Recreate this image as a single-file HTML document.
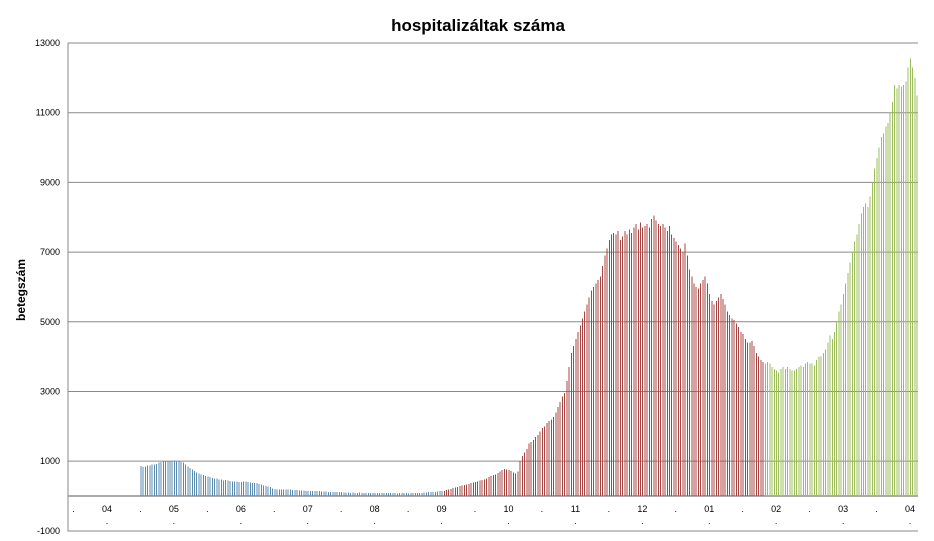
<!DOCTYPE html>
<html><head><meta charset="utf-8"><style>
body{margin:0;background:#fff;}
svg{display:block;font-family:"Liberation Sans",sans-serif;}
</style></head><body>
<svg id="chart" width="934" height="541">
<text x="478" y="31" text-anchor="middle" font-size="17" font-weight="bold">hospitalizáltak száma</text>
<text transform="translate(25,290) rotate(-90)" text-anchor="middle" font-size="12" font-weight="bold">betegszám</text>
<g id="grid"></g><g id="bars" shape-rendering="crispEdges"></g><g id="xlabels"></g>
</svg>
<script>
const yTicks=[13000,11000,9000,7000,5000,3000,1000,-1000];
const monthLabels=["04","05","06","07","08","09","10","11","12","01","02","03","04"];
const blueValues=[860,830,850,870,880,900,910,920,960,980,1000,1000,1000,
1010,1000,1020,990,1000,980,960,900,850,800,
760,720,680,650,620,600,580,560,540,520,
500,500,480,470,450,460,440,430,420,420,410,400,400,
420,410,400,390,380,380,370,350,330,300,280,270,260,
220,200,190,190,190,180,180,180,180,170,170,170,160,
160,160,150,150,150,150,140,140,140,130,130,130,120,120,120,110,110,110,
110,100,100,100,90,100,90,90,100,90,90,80,90,80,80,90,80,80,80,80,80,80,80,
80,80,70,80,80,80,80,70,80,80,80,90,90,90,100,100,110,110,120,120,130,140,150];
const redValues=[150,170,190,200,230,250,260,280,300,320,330,350,
370,390,400,420,440,460,480,500,540,580,600,620,660,700,
740,780,760,740,720,680,650,700,1000,
1150,1250,1350,1500,1550,1600,1700,1750,1850,
1950,2000,2100,2150,2200,2270,2400,2550,2700,
2850,2960,3300,3700,4100,4300,4500,4700,4900,
5100,5300,5500,5700,5900,6000,6100,6200,6300,
6600,6900,7100,7350,7500,7550,7500,7600,7350,
7450,7600,7500,7650,7550,7700,7800,7650,7850,
7700,7750,7800,7700,7950,8050,7900,7800,7750,
7800,7700,7600,7750,7500,7400,7300,7200,7100,
7000,7250,6900,6500,6300,6100,6000,5950,6100,
6200,6300,6100,5800,5600,5500,5600,5700,5800,
5650,5500,5300,5200,5100,5050,4950,4850,4700,
4650,4500,4400,4400,4450,4300,4100,4000,3900,3850];
const greenValues=[3800,3850,3800,3700,3650,3600,3550,3650,3700,3650,3700,3650,
3600,3600,3650,3700,3750,3700,3800,3850,3800,3800,3750,3900,4000,4000,
4100,4200,4400,4600,4500,4700,5000,5300,5500,5800,6100,6400,6700,7000,
7300,7500,7800,8100,8300,8400,8300,8600,9000,9400,9700,10000,10300,
10400,10600,10700,11000,11300,11800,11700,11800,11750,11800,11900,12300,12550,12300,12000,11500];

const NS="http://www.w3.org/2000/svg";
const L=68,R=918,T=43,B=531;
const yS=v=>496-(v)*(496-T)/13000;
const total=blueValues.length+redValues.length+greenValues.length;
const xS=i=>141+i*(917-141)/(total-1);
function mk(tag,attrs,parent){const e=document.createElementNS(NS,tag);for(const k in attrs)e.setAttribute(k,attrs[k]);parent.appendChild(e);return e;}
const grid=document.getElementById('grid');
yTicks.forEach(t=>{
  if(t>-1000){const g=mk('line',{x1:L,x2:R,y1:yS(t),y2:yS(t),stroke:'#8a8a8a','stroke-width':1},grid);
  
  }
  const tx=mk('text',{x:60,y:yS(t)+3,'text-anchor':'end','font-size':9},grid);tx.textContent=t;
  
  
});
const zl=mk('line',{x1:L,x2:R,y1:yS(0),y2:yS(0),stroke:'#777','stroke-width':1.2},grid);


const ax=mk('path',{d:`M${L} ${T}V${B}H${R}`,fill:'none',stroke:'#888','stroke-width':1},grid);


const bars=document.getElementById('bars');
let idx=0;
[[blueValues,'#5a8ab0','blue'],[redValues,'#a84542','red'],[greenValues,'#9dbd5c','green']].forEach(([arr,c,n])=>{
  arr.forEach(v=>{const x=xS(idx++);
    const b=mk('line',{x1:x,x2:x,y1:yS(0),y2:yS(v),stroke:c,'stroke-width':1},bars);
    
    
  });
});
const xl=document.getElementById('xlabels');
monthLabels.forEach((m,i)=>{
  const x=107+i*(910-107)/12;
  const t=mk('text',{x:x,y:512,'text-anchor':'middle','font-size':9},xl);t.textContent=m;
  
  
  const d=mk('text',{x:x,y:524,'text-anchor':'middle','font-size':9},xl);d.textContent='.';
  
  
  const d2=mk('text',{x:x-33.5,y:512,'text-anchor':'middle','font-size':9},xl);d2.textContent='.';
  
  
});
</script>
</body></html>
